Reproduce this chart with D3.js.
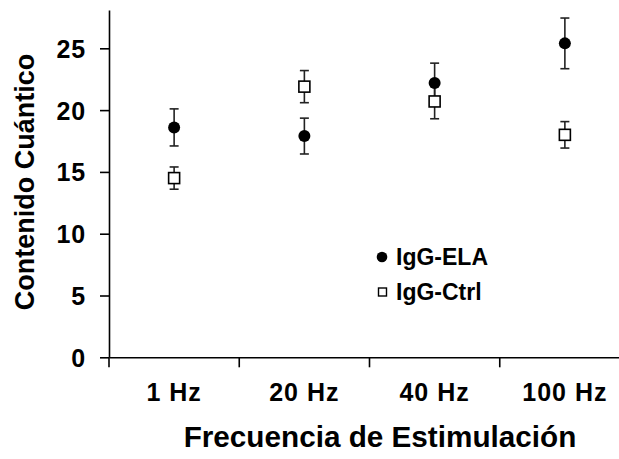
<!DOCTYPE html>
<html>
<head>
<meta charset="utf-8">
<script src="https://cdn.jsdelivr.net/npm/d3@7"></script>
<style>
  body { margin: 0; background: #fff; }
  text { font-family: "Liberation Sans", Arial, sans-serif; font-weight: bold; fill: #000; }
</style>
</head>
<body>
<div id="chart"></div>
<script>
const categories = ["1 Hz", "20 Hz", "40 Hz", "100 Hz"];
const elaMean = [18.6, 17.9, 22.2, 25.4];
const elaErr = [1.5, 1.45, 1.6, 2.05];
const ctrlMean = [14.5, 21.9, 20.7, 18.0];
const ctrlErr = [0.9, 1.3, 1.4, 1.07];
const yTicks = [0, 5, 10, 15, 20, 25];

const width = 619, height = 459;

const svg = d3.select("#chart").append("svg")
  .attr("width", width)
  .attr("height", height);

const x = d3.scaleBand()
  .domain(categories)
  .range([109, 630]);

const y = d3.scaleLinear()
  .domain([0, 28.1])
  .range([357.3, 10]);

// y axis
const yAxis = svg.append("g")
  .attr("transform", "translate(109,0)")
  .call(d3.axisLeft(y).tickValues(yTicks).tickSize(9).tickSizeOuter(0).tickPadding(14));
yAxis.selectAll("path, line").attr("stroke", "#000").attr("stroke-width", 1.6);
yAxis.selectAll("text").style("font-size", "25px").style("letter-spacing", "0.8px").attr("dy", "0.36em");

// x axis
const xAxis = svg.append("g")
  .attr("transform", "translate(0," + y(0) + ")")
  .call(d3.axisBottom(x).tickSize(0).tickSizeOuter(0).tickPadding(26));
xAxis.select("path").attr("stroke", "#000").attr("stroke-width", 1.6);
xAxis.selectAll("text").style("font-size", "25px").style("letter-spacing", "1px");

// tick marks at category boundaries
xAxis.selectAll(".bound")
  .data(categories)
  .enter().append("line")
  .attr("class", "bound")
  .attr("x1", d => x(d)).attr("x2", d => x(d))
  .attr("y1", 0).attr("y2", 10)
  .attr("stroke", "#000").attr("stroke-width", 1.6);

// axis titles
svg.append("text")
  .attr("transform", "translate(25," + 182 + ") rotate(-90)")
  .attr("text-anchor", "middle")
  .attr("dominant-baseline", "central")
  .style("font-size", "27px")
  .text("Contenido Cuántico");

svg.append("text")
  .attr("x", 380).attr("y", 436)
  .attr("text-anchor", "middle")
  .attr("dominant-baseline", "central")
  .style("font-size", "29.7px")
  .text("Frecuencia de Estimulación");

const cx = d => x(d) + x.bandwidth() / 2;

function errorBars(mean, err) {
  const g = svg.append("g").attr("stroke", "#222").attr("stroke-width", 1.6);
  const rows = categories.map((c, i) => ({c, m: mean[i], e: err[i]}));
  g.selectAll(".v").data(rows).enter().append("line")
    .attr("x1", d => cx(d.c)).attr("x2", d => cx(d.c))
    .attr("y1", d => y(d.m + d.e)).attr("y2", d => y(d.m - d.e));
  ["top", "bot"].forEach(k => {
    g.selectAll(".c" + k).data(rows).enter().append("line")
      .attr("x1", d => cx(d.c) - 4.5).attr("x2", d => cx(d.c) + 4.5)
      .attr("y1", d => y(k === "top" ? d.m + d.e : d.m - d.e))
      .attr("y2", d => y(k === "top" ? d.m + d.e : d.m - d.e));
  });
}

errorBars(elaMean, elaErr);
errorBars(ctrlMean, ctrlErr);

// IgG-ELA filled circles
svg.append("g").selectAll("circle")
  .data(categories)
  .enter().append("circle")
  .attr("cx", d => cx(d))
  .attr("cy", (d, i) => y(elaMean[i]))
  .attr("r", 6)
  .attr("fill", "#000");

// IgG-Ctrl open squares
svg.append("g").selectAll("rect")
  .data(categories)
  .enter().append("rect")
  .attr("x", d => cx(d) - 5.5)
  .attr("y", (d, i) => y(ctrlMean[i]) - 5.5)
  .attr("width", 11).attr("height", 11)
  .attr("fill", "#fff")
  .attr("stroke", "#000")
  .attr("stroke-width", 1.6);

// legend
const legend = svg.append("g");
legend.append("circle").attr("cx", 382).attr("cy", 257).attr("r", 5.3).attr("fill", "#000");
legend.append("rect").attr("x", 378.5).attr("y", 288).attr("width", 8).attr("height", 8)
  .attr("fill", "#fff").attr("stroke", "#000").attr("stroke-width", 1.4);
legend.append("text").attr("x", 396).attr("y", 257).attr("dominant-baseline", "central")
  .style("font-size", "23px").text("IgG-ELA");
legend.append("text").attr("x", 396).attr("y", 292).attr("dominant-baseline", "central")
  .style("font-size", "23px").text("IgG-Ctrl");
</script>
</body>
</html>
